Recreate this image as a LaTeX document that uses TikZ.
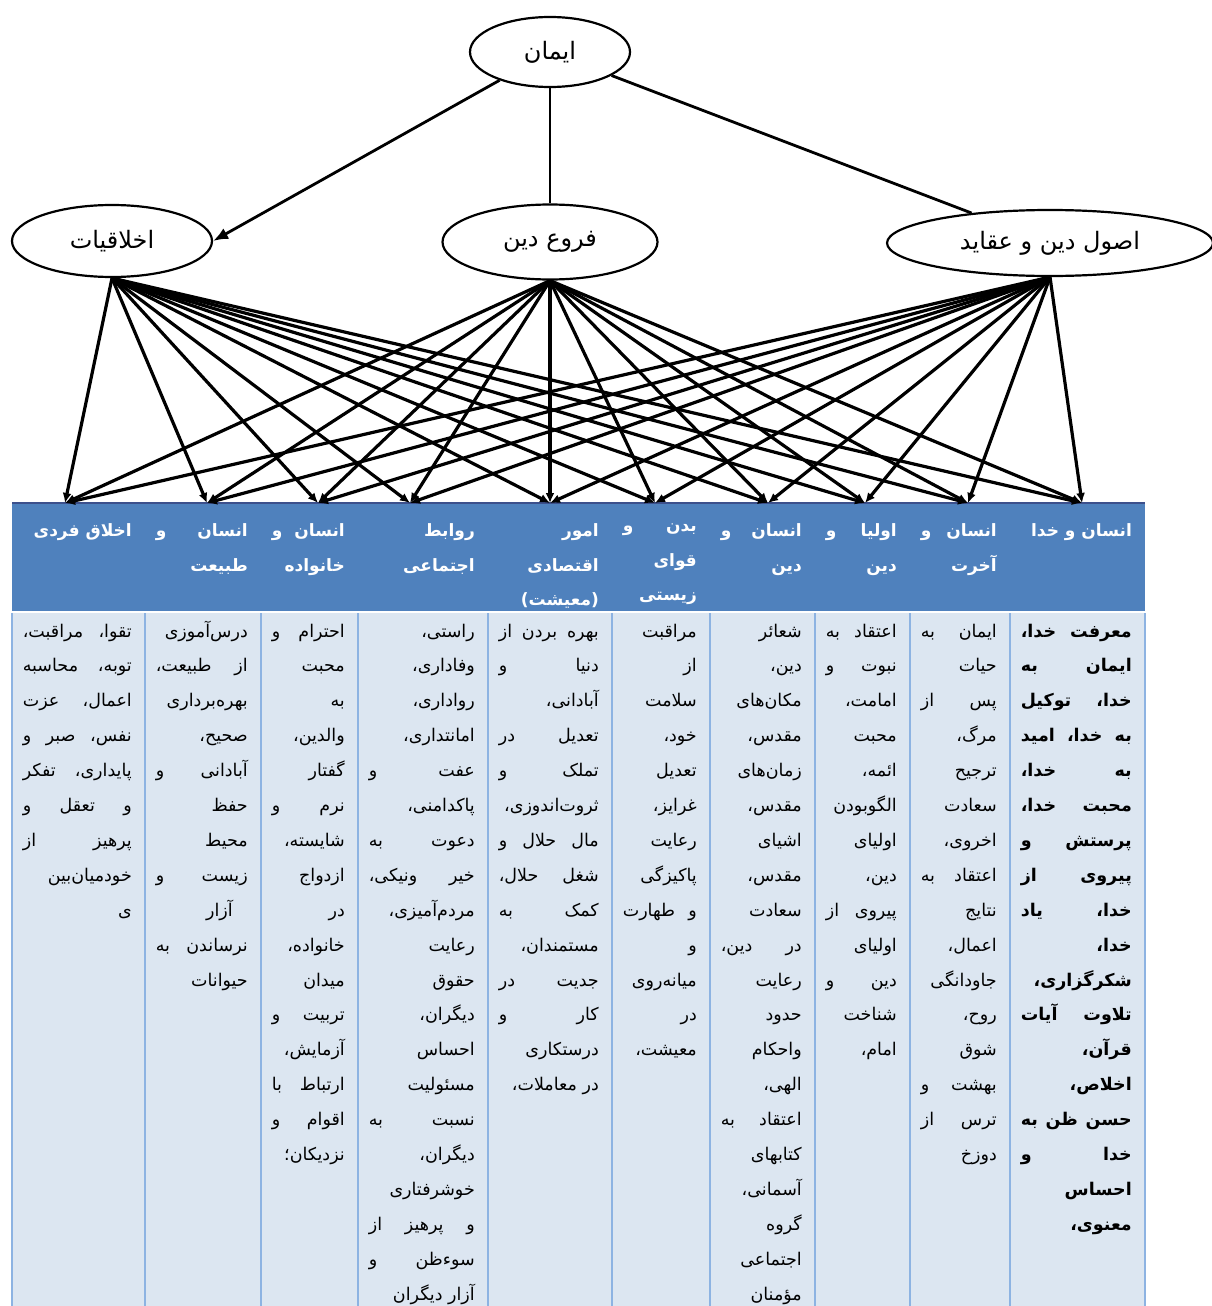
\documentclass[tikz,border=0pt]{standalone}
\usepackage{fontspec}
\usetikzlibrary{arrows.meta,shapes.geometric}
\TeXXeTstate=1
\newfontfamily\fa[Script=Arabic]{DejaVu Sans}
\definecolor{hdr}{RGB}{79,129,189}
\definecolor{cellbg}{RGB}{220,230,241}
\definecolor{gridc}{RGB}{141,179,226}
\definecolor{topedge}{RGB}{60,80,140}
\newcommand\Jl[1]{\hbox to\hsize{\beginR #1\endR}}
\newcommand\Rl[1]{\hbox to\hsize{\hfill\beginR #1\endR}}
\newcommand\tcell[5]{%
  \node[anchor=base east, inner sep=0pt] (#1) at (#3-13,#4)
    {\vtop{\hsize=\dimexpr#3pt-#2pt-24pt\relax #5}};}
\newcommand\bodyfont{\fa\fontsize{17.5}{34.9}\selectfont}
\newcommand\hdrfont{\fa\bfseries\fontsize{17}{34.5}\selectfont\color{white}}
\begin{document}
\begin{tikzpicture}[x=1pt,y=-1pt,
  ell/.style={ellipse, draw, line width=2.2pt, fill=white, inner sep=0pt,
              font=\fa\fontsize{24}{28}\selectfont},
  conn/.style={line width=3.2pt, -{Latex[length=10pt,width=9pt]}}]
\useasboundingbox (0,0) rectangle (1212,1306);
% table
\fill[cellbg] (12,612) rectangle (1145,1306);
\fill[hdr] (12,503) rectangle (1145,612);
\draw[topedge, line width=1.5pt] (12,503) -- (1145,503);
\draw[white, line width=2pt] (12,612) -- (1145,612);
\foreach \bx in {12,145,261,358,488,612,710,815,910,1010,1145}
  \draw[gridc, line width=2pt] (\bx,613) -- (\bx,1306);
% header cells
\tcell{h1}{1010}{1145}{524}{\hdrfont \Rl{انسان و خدا}}
\tcell{h2}{910}{1010}{524}{\hdrfont \Jl{انسان و}\Rl{آخرت}}
\tcell{h3}{815}{910}{524}{\hdrfont \Jl{اولیا و}\Rl{دین}}
\tcell{h4}{710}{815}{524}{\hdrfont \Jl{انسان و}\Rl{دین}}
\tcell{h5}{612}{710}{524}{\hdrfont \Jl{بدن و}\Rl{قوای}\Rl{زیستی}}
\tcell{h6}{488}{612}{524}{\hdrfont \Rl{امور}\Rl{اقتصادی}\Rl{(معیشت)}}
\tcell{h7}{358}{488}{524}{\hdrfont \Rl{روابط}\Rl{اجتماعی}}
\tcell{h8}{261}{358}{524}{\hdrfont \Jl{انسان و}\Rl{خانواده}}
\tcell{h9}{145}{261}{524}{\hdrfont \Jl{انسان و}\Rl{طبیعت}}
\tcell{h10}{12}{145}{524}{\hdrfont \Rl{اخلاق فردی}}
% body cells
\tcell{c1}{1010}{1145}{637}{\bodyfont\bfseries
 \Jl{معرفت خدا،}\Jl{ایمان به}\Jl{خدا، توکیل}\Jl{به خدا، امید}\Jl{به خدا،}
 \Jl{محبت خدا،}\Jl{پرستش و}\Jl{پیروی از}\Jl{خدا، یاد}\Rl{خدا،}
 \Rl{شکرگزاری،}\Jl{تلاوت آیات}\Rl{قرآن،}\Rl{اخلاص،}\Jl{حسن ظن به}
 \Jl{خدا و}\Rl{احساس}\Rl{معنوی،}}
\tcell{c2}{910}{1010}{637}{\bodyfont
 \Jl{ایمان به}\Rl{حیات}\Jl{پس از}\Rl{مرگ،}\Rl{ترجیح}\Rl{سعادت}
 \Rl{اخروی،}\Jl{اعتقاد به}\Rl{نتایج}\Rl{اعمال،}\Rl{جاودانگی}\Rl{روح،}
 \Rl{شوق}\Jl{بهشت و}\Jl{ترس از}\Rl{دوزخ}}
\tcell{c3}{815}{910}{637}{\bodyfont
 \Jl{اعتقاد به}\Jl{نبوت و}\Rl{امامت،}\Rl{محبت}\Rl{ائمه،}\Rl{الگوبودن}
 \Rl{اولیای}\Rl{دین،}\Jl{پیروی از}\Rl{اولیای}\Jl{دین و}\Rl{شناخت}\Rl{امام،}}
\tcell{c4}{710}{815}{637}{\bodyfont
 \Rl{شعائر}\Rl{دین،}\Rl{مکان‌های}\Rl{مقدس،}\Rl{زمان‌های}\Rl{مقدس،}
 \Rl{اشیای}\Rl{مقدس،}\Rl{سعادت}\Jl{در دین،}\Rl{رعایت}\Rl{حدود}
 \Rl{واحکام}\Rl{الهی،}\Jl{اعتقاد به}\Rl{کتابهای}\Rl{آسمانی،}\Rl{گروه}
 \Rl{اجتماعی}\Rl{مؤمنان}}
\tcell{c5}{612}{710}{637}{\bodyfont
 \Rl{مراقبت}\Rl{از}\Rl{سلامت}\Rl{خود،}\Rl{تعدیل}\Rl{غرایز،}\Rl{رعایت}
 \Rl{پاکیزگی}\Jl{و طهارت}\Rl{و}\Rl{میانه‌روی}\Rl{در}\Rl{معیشت،}}
\tcell{c6}{488}{612}{637}{\bodyfont
 \Jl{بهره بردن از}\Jl{دنیا و}\Rl{آبادانی،}\Jl{تعدیل در}\Jl{تملک و}
 \Rl{ثروت‌اندوزی،}\Jl{مال حلال و}\Jl{شغل حلال،}\Jl{کمک به}\Rl{مستمندان،}
 \Jl{جدیت در}\Jl{کار و}\Rl{درستکاری}\Rl{در معاملات،}}
\tcell{c7}{358}{488}{637}{\bodyfont
 \Rl{راستی،}\Rl{وفاداری،}\Rl{رواداری،}\Rl{امانتداری،}\Jl{عفت و}
 \Rl{پاکدامنی،}\Jl{دعوت به}\Jl{خیر ونیکی،}\Rl{مردم‌آمیزی،}\Rl{رعایت}
 \Rl{حقوق}\Rl{دیگران،}\Rl{احساس}\Rl{مسئولیت}\Jl{نسبت به}\Rl{دیگران،}
 \Rl{خوشرفتاری}\Jl{و پرهیز از}\Jl{سوءظن و}\Rl{آزار دیگران}}
\tcell{c8}{261}{358}{637}{\bodyfont
 \Jl{احترام و}\Rl{محبت}\Rl{به}\Rl{والدین،}\Rl{گفتار}\Jl{نرم و}
 \Rl{شایسته،}\Rl{ازدواج}\Rl{در}\Rl{خانواده،}\Rl{میدان}\Jl{تربیت و}
 \Rl{آزمایش،}\Jl{ارتباط با}\Jl{اقوام و}\Rl{نزدیکان؛}}
\tcell{c9}{145}{261}{637}{\bodyfont
 \Rl{درس‌آموزی}\Jl{از طبیعت،}\Rl{بهره‌برداری}\Rl{صحیح،}\Jl{آبادانی و}
 \Rl{حفظ}\Rl{محیط}\Jl{زیست و}\hbox to\hsize{\hfill\beginR آزار\endR\hspace{15pt}}
 \Jl{نرساندن به}\Rl{حیوانات}}
\tcell{c10}{12}{145}{637}{\bodyfont
 \Jl{تقوا، مراقبت،}\Jl{توبه، محاسبه}\Jl{اعمال، عزت}\Jl{نفس، صبر و}
 \Jl{پایداری، تفکر}\Jl{و تعقل و}\Jl{پرهیز از}\Rl{خودمیان‌بین}\Rl{ی}}
% ellipses
\node[ell, minimum width=160pt, minimum height=70pt] (iman) at (550,52) {ایمان};
\node[ell, minimum width=200pt, minimum height=72pt] (akh) at (112,241) {اخلاقیات};
\node[ell, minimum width=215pt, minimum height=75pt] (foru) at (550,242) {\beginR فروع دین\endR};
\node[ell, minimum width=326pt, minimum height=66pt] (osul) at (1050,243) {\beginR اصول دین و عقاید\endR};
% top connectors
\draw[line width=2.8pt, -{Latex[length=15pt,width=12pt]}] (iman) -- (akh.east);
\draw[line width=2.8pt] (iman.south) -- (foru.north);
\draw[line width=2.8pt] (iman) -- (osul);
% column targets
\coordinate (t1) at (1082,503);
\coordinate (t2) at (968,503);
\coordinate (t3) at (865,503);
\coordinate (t4) at (768,503);
\coordinate (t5) at (655,503);
\coordinate (t6) at (550,503);
\coordinate (t7) at (410,503);
\coordinate (t8) at (318,503);
\coordinate (t9) at (207,503);
\coordinate (t10) at (65,503);
\foreach \s in {akh,foru,osul}
  \foreach \t in {t1,t2,t3,t4,t5,t6,t7,t8,t9,t10}
    \draw[conn] (\s.south) -- (\t);
\end{tikzpicture}
\end{document}
